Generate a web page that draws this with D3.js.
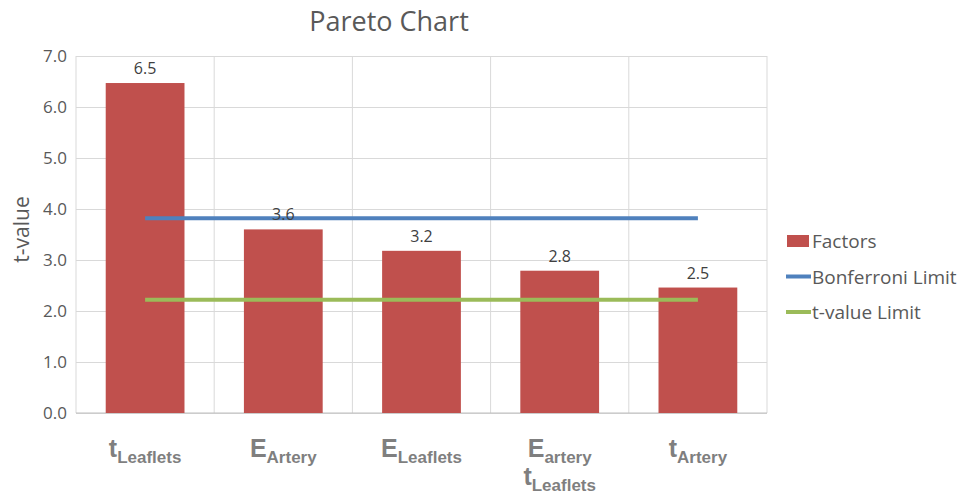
<!DOCTYPE html>
<html>
<head>
<meta charset="utf-8">
<script src="https://cdn.jsdelivr.net/npm/d3@7"></script>
<style>
  body { margin: 0; background: #fff; }
  text { font-family: "Open Sans", "DejaVu Sans", sans-serif; }
  .grid line { stroke: #d9d9d9; }
  .grid path { display: none; }
  .xlab { font-family: "Liberation Sans", Arial, sans-serif; font-weight: bold; fill: #7f7f7f; }
</style>
</head>
<body>
<div id="chart"></div>
<script>
// data
const categories = ["tLeaflets", "EArtery", "ELeaflets", "EarterytLeaflets", "tArtery"];
const catLabels = [
  [["t", "Leaflets"]],
  [["E", "Artery"]],
  [["E", "Leaflets"]],
  [["E", "artery"], ["t", "Leaflets"]],
  [["t", "Artery"]]
];
const factors = [6.47, 3.6, 3.18, 2.79, 2.46];
const valueLabels = ["6.5", "3.6", "3.2", "2.8", "2.5"];
const bonferroni = 3.82;
const tLimit = 2.22;
const yTicks = [0, 1, 2, 3, 4, 5, 6, 7];

const W = 966, H = 494;
const margin = {top: 56, left: 76, right: 199, bottom: 81};
const width = W - margin.left - margin.right;
const height = H - margin.top - margin.bottom;

const svg = d3.select("#chart").append("svg")
  .attr("width", W).attr("height", H);

const g = svg.append("g").attr("transform", `translate(${margin.left},${margin.top})`);

const x = d3.scaleBand().domain(categories).range([0, width]).padding(0);
const y = d3.scaleLinear().domain([0, 7]).range([height, 0]);

// horizontal grid
g.append("g").attr("class", "grid")
  .call(d3.axisLeft(y).tickValues(yTicks).tickSize(-width).tickFormat(""));

// vertical category separators
g.selectAll(".vsep")
  .data(categories.slice(1))
  .enter().append("line")
  .attr("class", "vsep")
  .attr("x1", d => x(d)).attr("x2", d => x(d))
  .attr("y1", 0).attr("y2", height)
  .attr("stroke", "#d9d9d9");

// plot border and baseline
g.append("line").attr("x1", width).attr("x2", width).attr("y1", 0).attr("y2", height).attr("stroke", "#d9d9d9");
g.append("line").attr("x1", 0).attr("x2", 0).attr("y1", 0).attr("y2", height).attr("stroke", "#d9d9d9");
g.append("line").attr("x1", 0).attr("x2", width).attr("y1", height).attr("y2", height).attr("stroke", "#bfbfbf");

// y tick labels
const yAxis = g.append("g")
  .call(d3.axisLeft(y).tickValues(yTicks).tickSize(0).tickPadding(9).tickFormat(d3.format(".1f")));
yAxis.select(".domain").remove();
yAxis.selectAll("text").attr("font-size", 17).attr("fill", "#595959")
  .attr("font-family", "'Open Sans', sans-serif");

// bars
const barW = x.bandwidth() * 0.57;
g.selectAll(".bar")
  .data(factors)
  .enter().append("rect")
  .attr("class", "bar")
  .attr("x", (d, i) => x(categories[i]) + (x.bandwidth() - barW) / 2)
  .attr("width", barW)
  .attr("y", d => y(d))
  .attr("height", d => height - y(d))
  .attr("fill", "#c0504d");

// limit lines
const xFirst = x(categories[0]) + x.bandwidth() / 2;
const xLast = x(categories[categories.length - 1]) + x.bandwidth() / 2;
const limits = [{v: bonferroni, c: "#4f81bd"}, {v: tLimit, c: "#9bbb59"}];
g.selectAll(".limit")
  .data(limits)
  .enter().append("line")
  .attr("x1", xFirst).attr("x2", xLast)
  .attr("y1", d => y(d.v)).attr("y2", d => y(d.v))
  .attr("stroke", d => d.c).attr("stroke-width", 4);

// value labels
g.selectAll(".vlab")
  .data(factors)
  .enter().append("text")
  .attr("x", (d, i) => x(categories[i]) + x.bandwidth() / 2)
  .attr("y", d => y(d) - 9)
  .attr("text-anchor", "middle")
  .attr("font-size", 16)
  .attr("fill", "#404040")
  .text((d, i) => valueLabels[i]);

// x labels with subscripts
catLabels.forEach((lines, i) => {
  const cx = x(categories[i]) + x.bandwidth() / 2;
  lines.forEach((pair, j) => {
    const t = g.append("text")
      .attr("class", "xlab")
      .attr("x", cx)
      .attr("y", height + 44 + j * 28)
      .attr("text-anchor", "middle");
    t.append("tspan").attr("font-size", 25).text(pair[0]);
    t.append("tspan").attr("font-size", 17).attr("dy", 6).text(pair[1]);
  });
});

// y title
svg.append("text")
  .attr("transform", `translate(29,${margin.top + height / 2 - 5}) rotate(-90)`)
  .attr("text-anchor", "middle")
  .attr("font-size", 21)
  .attr("fill", "#595959")
  .text("t-value");

// title
svg.append("text")
  .attr("x", 389).attr("y", 31)
  .attr("text-anchor", "middle")
  .attr("font-size", 27)
  .attr("fill", "#595959")
  .text("Pareto Chart");

// legend
const legendItems = [
  {name: "Factors", type: "rect", c: "#c0504d"},
  {name: "Bonferroni Limit", type: "line", c: "#4f81bd"},
  {name: "t-value Limit", type: "line", c: "#9bbb59"}
];
const lg = svg.append("g").attr("transform", "translate(786,241)");
legendItems.forEach((d, i) => {
  const row = lg.append("g").attr("transform", `translate(0,${i * 35.5})`);
  if (d.type === "rect") {
    row.append("rect").attr("x", 1).attr("y", -6).attr("width", 22).attr("height", 12).attr("fill", d.c);
  } else {
    row.append("line").attr("x1", 0).attr("x2", 25).attr("y1", 0).attr("y2", 0)
      .attr("stroke", d.c).attr("stroke-width", 4);
  }
  row.append("text").attr("x", 26).attr("y", 7).attr("font-size", 19).attr("fill", "#595959").text(d.name);
});
</script>
</body>
</html>
